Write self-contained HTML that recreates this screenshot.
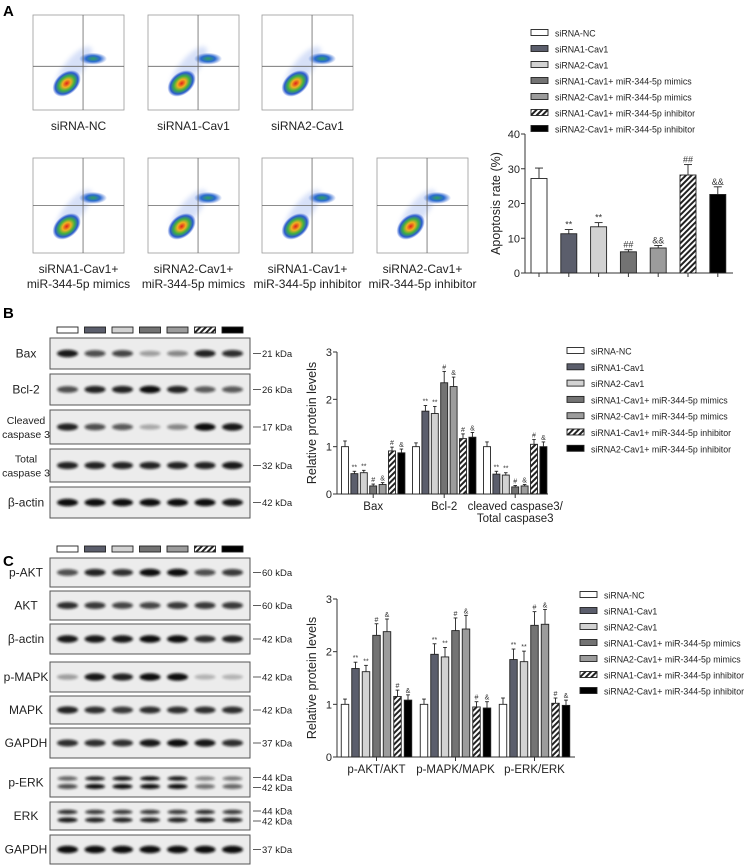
<!DOCTYPE html>
<html><head><meta charset="utf-8">
<style>
html,body{margin:0;padding:0;background:#fff;}
svg{display:block;font-family:"Liberation Sans",sans-serif;}
</style></head>
<body>
<svg id="fig" width="749" height="865" viewBox="0 0 749 865" xmlns="http://www.w3.org/2000/svg">
<defs>
  <pattern id="hatch" width="4" height="4" patternUnits="userSpaceOnUse" patternTransform="rotate(45)">
    <rect width="4" height="4" fill="#fff"/><rect width="2" height="4" fill="#222"/>
  </pattern>
  <filter id="blur" x="-50%" y="-100%" width="200%" height="300%"><feGaussianBlur stdDeviation="1.3"/></filter>
  <filter id="blur2" x="-50%" y="-50%" width="200%" height="200%"><feGaussianBlur stdDeviation="2.5"/></filter>
  <radialGradient id="core" cx="50%" cy="50%" r="50%">
    <stop offset="0" stop-color="#e0201a"/><stop offset="0.3" stop-color="#f0b020"/>
    <stop offset="0.55" stop-color="#40b040"/><stop offset="0.8" stop-color="#2a5ad0"/>
    <stop offset="1" stop-color="#2a5ad0" stop-opacity="0"/>
  </radialGradient>
  <radialGradient id="cl2" cx="50%" cy="50%" r="50%">
    <stop offset="0" stop-color="#30a060"/><stop offset="0.5" stop-color="#2a6ad0"/>
    <stop offset="1" stop-color="#3a6ad0" stop-opacity="0"/>
  </radialGradient>
</defs>
<g id="root"></g>
</svg>
<script>
// ---------- Chart data ----------
const groupsA = ["siRNA-NC","siRNA1-Cav1","siRNA2-Cav1","siRNA1-Cav1+ miR-344-5p mimics","siRNA2-Cav1+ miR-344-5p mimics","siRNA1-Cav1+ miR-344-5p inhibitor","siRNA2-Cav1+ miR-344-5p inhibitor"];
const apoptosisValues = [27.2, 11.3, 13.3, 6.1, 7.2, 28.2, 22.6];
const apoptosisErrors = [3.0, 1.2, 1.2, 0.6, 0.7, 3.0, 2.2];
const apoptosisMarks = ["", "**", "**", "##", "&&", "##", "&&"];
const ticksA = [0, 10, 20, 30, 40];

const categoriesB = ["Bax", "Bcl-2", "cleaved caspase3/|Total caspase3"];
const baxValues = [1.0, 0.43, 0.45, 0.17, 0.2, 0.91, 0.87];
const bcl2Values = [1.0, 1.75, 1.7, 2.35, 2.27, 1.17, 1.2];
const casp3Values = [1.0, 0.42, 0.4, 0.15, 0.17, 1.05, 1.0];
const errorsB = [[0.12,0.05,0.05,0.04,0.04,0.08,0.08],[0.08,0.12,0.15,0.24,0.2,0.1,0.1],[0.1,0.06,0.05,0.03,0.03,0.1,0.1]];
const marksB = ["", "**", "**", "#", "&", "#", "&"];
const ticksB = [0, 1, 2, 3];

const categoriesC = ["p-AKT/AKT", "p-MAPK/MAPK", "p-ERK/ERK"];
const aktValues = [1.0, 1.68, 1.62, 2.31, 2.38, 1.15, 1.08];
const mapkValues = [1.0, 1.95, 1.9, 2.4, 2.43, 0.95, 0.93];
const erkValues = [1.0, 1.85, 1.81, 2.5, 2.52, 1.02, 0.98];
const errorsC = [[0.1,0.12,0.12,0.22,0.24,0.12,0.1],[0.1,0.2,0.18,0.24,0.26,0.1,0.12],[0.12,0.2,0.2,0.26,0.28,0.1,0.1]];
const ticksC = [0, 1, 2, 3];

const fills = ["#ffffff","#5b5e6c","#d2d2d2","#737373","#9c9c9c","url(#hatch)","#000000"];

const NS = "http://www.w3.org/2000/svg";
const root = document.getElementById("root");
function mk(tag, attrs, parent, text){
  const e = document.createElementNS(NS, tag);
  for (const k in attrs) e.setAttribute(k, attrs[k]);
  if (text !== undefined) e.textContent = text;
  (parent || root).appendChild(e);
  return e;
}

// ---------- Panel letters ----------
[["A",3,16],["B",3,318],["C",3,566]].forEach(([t,x,y])=>{
  const e = mk("text",{x:x,y:y,"font-size":15,"font-weight":"bold"},root,t);
  
  
});

// ---------- Flow plots ----------
const flowPlots = [
  {x:33,y:15,lab:["siRNA-NC"],hy:0.54},
  {x:148,y:15,lab:["siRNA1-Cav1"],hy:0.54},
  {x:262,y:15,lab:["siRNA2-Cav1"],hy:0.54},
  {x:33,y:158,lab:["siRNA1-Cav1+","miR-344-5p mimics"],hy:0.5},
  {x:148,y:158,lab:["siRNA2-Cav1+","miR-344-5p mimics"],hy:0.5},
  {x:262,y:158,lab:["siRNA1-Cav1+","miR-344-5p inhibitor"],hy:0.5},
  {x:377,y:158,lab:["siRNA2-Cav1+","miR-344-5p inhibitor"],hy:0.5}
];
flowPlots.forEach((p,i)=>{
  const g = mk("g",{});
  
  
  const w=91,h=95;
  mk("rect",{x:p.x,y:p.y,width:w,height:h,fill:"#fff",stroke:"#999","stroke-width":0.8},g);
  mk("ellipse",{cx:p.x+w*0.45,cy:p.y+h*0.55,rx:26,ry:9,fill:"#7a9ae8",opacity:0.3,transform:`rotate(-50 ${p.x+w*0.45} ${p.y+h*0.55})`,filter:"url(#blur2)"},g);
  mk("ellipse",{cx:p.x+w*0.37,cy:p.y+h*0.72,rx:16,ry:11,fill:"url(#core)",transform:`rotate(-40 ${p.x+w*0.37} ${p.y+h*0.72})`},g);
  mk("ellipse",{cx:p.x+w*0.66,cy:p.y+h*(p.hy-0.08),rx:14,ry:6,fill:"url(#cl2)"},g);
  mk("line",{x1:p.x+w*0.55,y1:p.y,x2:p.x+w*0.55,y2:p.y+h,stroke:"#666","stroke-width":0.8},g);
  mk("line",{x1:p.x,y1:p.y+h*p.hy,x2:p.x+w,y2:p.y+h*p.hy,stroke:"#666","stroke-width":0.8},g);
  p.lab.forEach((t,j)=>{
    const tx = mk("text",{x:p.x+w/2,y:p.y+h+20+j*15,"font-size":12,"text-anchor":"middle",fill:"#222"},g,t);
    
    
  });
});

// ---------- Generic bar chart ----------
function drawChart(opt){
  const g = mk("g",{});
  
  
  const yS = v => opt.y0 - (v/opt.max)*(opt.y0-opt.yTop);
  mk("line",{x1:opt.x0,y1:opt.yTop,x2:opt.x0,y2:opt.y0,stroke:"#333","stroke-width":1},g);
  mk("line",{x1:opt.x0,y1:opt.y0,x2:opt.xEnd,y2:opt.y0,stroke:"#333","stroke-width":1},g);
  opt.ticks.forEach(t=>{
    mk("line",{x1:opt.x0-4,y1:yS(t),x2:opt.x0,y2:yS(t),stroke:"#333"},g);
    const tl = mk("text",{x:opt.x0-5,y:yS(t)+4,"font-size":11,"text-anchor":"end",fill:"#222"},g,String(t));
    
    
  });
  const yt = mk("text",{x:0,y:0,"font-size":12.5,"text-anchor":"middle",fill:"#222",transform:`translate(${opt.titleX},${(opt.yTop+opt.y0)/2}) rotate(-90)`},g,opt.title);
  
  
  opt.series.forEach((vals,gi)=>{
    const gx = opt.gStart + gi*opt.gPitch;
    vals.forEach((v,bi)=>{
      const cx = gx + bi*opt.bPitch;
      const top = yS(v), eTop = yS(v+opt.errors[gi][bi]);
      const r = mk("rect",{x:cx-opt.bw/2,y:top,width:opt.bw,height:opt.y0-top,fill:fills[bi],stroke:"#222","stroke-width":0.9},g);
      
      
      mk("line",{x1:cx,y1:top,x2:cx,y2:eTop,stroke:"#222","stroke-width":0.9},g);
      mk("line",{x1:cx-opt.bw*0.25,y1:eTop,x2:cx+opt.bw*0.25,y2:eTop,stroke:"#222","stroke-width":0.9},g);
      const m = opt.marks[bi];
      if (m) mk("text",{x:cx,y:eTop-2,"font-size":opt.markSize,"text-anchor":"middle",fill:"#333"},g,m);
      if (opt.tickPerBar) mk("line",{x1:cx,y1:opt.y0,x2:cx,y2:opt.y0+4,stroke:"#333"},g);
    });
    if (opt.cats){
      const c = gx + 3*opt.bPitch;
      mk("line",{x1:c,y1:opt.y0,x2:c,y2:opt.y0+4,stroke:"#333"},g);
      opt.cats[gi].split("|").forEach((t,li)=>{
        const cl = mk("text",{x:c,y:opt.y0+16+li*12,"font-size":11.5,"text-anchor":"middle",fill:"#222"},g,t);
        
        
      });
    }
  });
  groupsA.forEach((t,i)=>{
    const ly = opt.legY + i*opt.legPitch;
    const sw = mk("rect",{x:opt.legX,y:ly-3.5,width:17,height:6,fill:fills[i],stroke:"#222","stroke-width":0.9},g);
    
    
    const lt = mk("text",{x:opt.legX+24,y:ly+3.5,"font-size":8.8,fill:"#222"},g,t);
    
    
  });
}

drawChart({name:"apoptosis-chart",x0:525,xEnd:733,y0:273,yTop:134,max:40,ticks:ticksA,title:"Apoptosis rate (%)",titleX:500,
  series:[apoptosisValues],errors:[apoptosisErrors],marks:apoptosisMarks,gStart:539,gPitch:0,bPitch:29.8,bw:16,tickPerBar:true,markSize:9,
  legX:531,legY:33,legPitch:16});
drawChart({name:"apoptosis-protein-chart",x0:337,xEnd:548,y0:494,yTop:352,max:3,ticks:ticksB,title:"Relative protein levels",titleX:316,
  series:[baxValues,bcl2Values,casp3Values],errors:errorsB,marks:marksB,cats:categoriesB,gStart:345,gPitch:71,bPitch:9.4,bw:7,markSize:7,
  legX:567,legY:351,legPitch:16.3});
drawChart({name:"pathway-protein-chart",x0:337,xEnd:575,y0:757,yTop:599,max:3,ticks:ticksC,title:"Relative protein levels",titleX:316,
  series:[aktValues,mapkValues,erkValues],errors:errorsC,marks:marksB,cats:categoriesC,gStart:345,gPitch:79,bPitch:10.5,bw:7.5,markSize:7,
  legX:580,legY:595,legPitch:16});

// ---------- Western blots ----------
function markers(y, name){
  const g = mk("g",{});
  
  
  for (let i=0;i<7;i++) mk("rect",{x:57+i*27.5,y:y,width:21,height:6,fill:fills[i],stroke:"#222","stroke-width":0.9},g);
}
markers(327,"lane-legend-b");
markers(546,"lane-legend-c");

function blot(name,label,y0,y1,kda,ints,double){
  const g = mk("g",{});
  
  
  mk("rect",{x:50,y:y0,width:200,height:y1-y0,fill:"#ececec",stroke:"#555","stroke-width":1},g);
  const cy = (y0+y1)/2;
  ints.forEach((v,i)=>{
    const cx = 67.5+i*27.5;
    if (double){
      mk("ellipse",{cx:cx,cy:cy-4,rx:10,ry:2.2,fill:"#111",opacity:v,filter:"url(#blur)"},g);
      mk("ellipse",{cx:cx,cy:cy+4,rx:10,ry:2.5,fill:"#111",opacity:Math.min(1,v+0.1),filter:"url(#blur)"},g);
    } else {
      mk("ellipse",{cx:cx,cy:cy,rx:10.5,ry:2.2+1.6*v,fill:"#111",opacity:v,filter:"url(#blur)"},g);
    }
  });
  label.split("|").forEach((t,li,arr)=>{
    const lt = mk("text",{x:26,y:cy+4+(li-(arr.length-1)/2)*14,"font-size":arr.length>1?10.5:12,"text-anchor":"middle",fill:"#222"},g,t);
    
    
  });
  kda.forEach((t,ki,arr)=>{
    const ky = cy + (ki-(arr.length-1)/2)*10;
    mk("line",{x1:253,y1:ky,x2:261,y2:ky,stroke:"#333","stroke-width":0.8},g);
    const kt = mk("text",{x:262,y:ky+3.5,"font-size":9.5,fill:"#222"},g,t);
    
    
  });
}
blot("bax","Bax",338,369,["21 kDa"],[0.95,0.7,0.75,0.35,0.45,0.9,0.85]);
blot("bcl2","Bcl-2",374,405,["26 kDa"],[0.7,0.9,0.9,1,0.9,0.65,0.65]);
blot("cleaved-caspase3","Cleaved|caspase 3",410,444,["17 kDa"],[0.9,0.7,0.65,0.3,0.45,1,0.95]);
blot("total-caspase3","Total|caspase 3",449,482,["32 kDa"],[0.9,0.9,0.9,0.9,0.9,0.9,0.95]);
blot("beta-actin-b","β-actin",487,518,["42 kDa"],[1,1,1,1,1,1,0.95]);

blot("p-akt","p-AKT",558,587,["60 kDa"],[0.7,0.9,0.85,1,1,0.7,0.8]);
blot("akt","AKT",591,620,["60 kDa"],[0.85,0.8,0.75,0.75,0.8,0.8,0.8]);
blot("beta-actin-c","β-actin",624,654,["42 kDa"],[0.95,0.95,0.95,1,1,0.85,0.9]);
blot("p-mapk","p-MAPK",662,692,["42 kDa"],[0.35,0.95,0.9,1,1,0.25,0.25]);
blot("mapk","MAPK",696,724,["42 kDa"],[0.9,0.85,0.8,0.85,0.85,0.85,0.85]);
blot("gapdh-1","GAPDH",728,758,["37 kDa"],[0.85,0.85,0.85,0.95,1,0.95,0.85]);
blot("p-erk","p-ERK",768,797,["44 kDa","42 kDa"],[0.6,0.9,0.95,1,0.95,0.45,0.5],true);
blot("erk","ERK",802,830,["44 kDa","42 kDa"],[0.85,0.8,0.8,0.8,0.8,0.85,0.8],true);
blot("gapdh-2","GAPDH",835,864,["37 kDa"],[1,1,1,1,1,1,1]);
</script>
</body></html>
